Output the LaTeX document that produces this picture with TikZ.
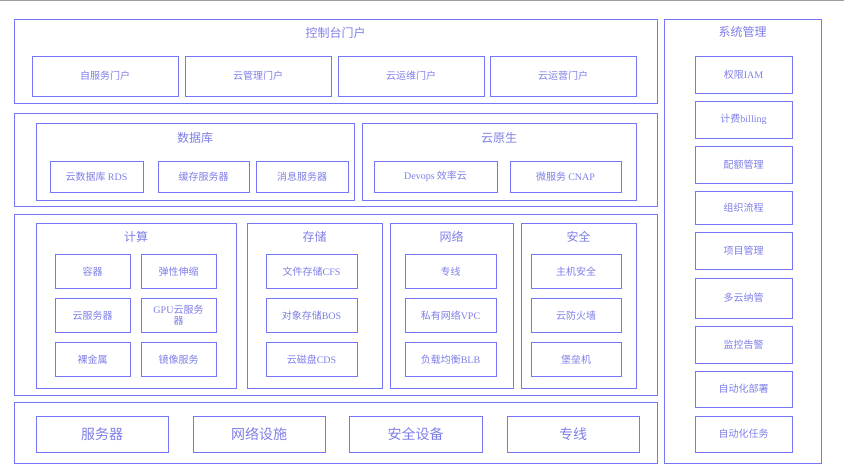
\documentclass[tikz,border=0pt]{standalone}
\usepackage{fontspec}
\setmainfont{Noto Sans CJK SC}
\newfontfamily\engfont{Liberation Serif}
\usetikzlibrary{positioning}
\definecolor{boxblue}{RGB}{118,118,248}
\definecolor{textblue}{RGB}{126,126,232}

\begin{document}
\begin{tikzpicture}[x=1pt, y=-1pt, node distance=8pt,
  every node/.style={text=textblue, inner sep=0pt, outer sep=0pt},
  layer/.style={draw=boxblue, line width=0.9pt, anchor=north west},
  group/.style={layer},
  title/.style={font=\fontsize{12}{14}\selectfont},
  item/.style={draw=boxblue, line width=0.9pt, anchor=north west, align=center, font=\fontsize{10}{11.5}\selectfont},
  portalbox/.style={item, minimum width=146pt, minimum height=40pt},
  cellbox/.style={item, minimum height=34.5pt},
  basebox/.style={item, minimum width=132pt, minimum height=36pt, font=\fontsize{14}{16}\selectfont},
  sysbox/.style={item, minimum width=97pt}]
\useasboundingbox (0,0) rectangle (844,475);
\draw[gray!75, line width=1pt] (0,0.5) -- (844,0.5);

% portal layer
\node[layer, minimum width=643pt, minimum height=84pt] (portal) at (14,19) {};
\node[title, below=8.5pt of portal.north] (portaltitle) {控制台门户};
\node[portalbox] (selfsvc) at (32,56) {自服务门户};
\node[portalbox, right=7pt of selfsvc] (cloudmgmt) {云管理门户};
\node[portalbox, right=7pt of cloudmgmt] (cloudops) {云运维门户};
\node[portalbox, right=6pt of cloudops] (cloudrun) {云运营门户};

% paas layer
\node[layer, minimum width=643pt, minimum height=93pt] (paas) at (14,113) {};
\node[group, minimum width=318pt, minimum height=77pt] (db) at (36,123) {};
\node[title, below=9pt of db.north] (dbtitle) {数据库};
\node[item, minimum width=93pt, minimum height=31pt] (rds) at (50,161) {云数据库 {\engfont RDS}};
\node[item, minimum width=91pt, minimum height=31pt, right=15pt of rds] (cache) {缓存服务器};
\node[item, minimum width=92pt, minimum height=31pt, right=7pt of cache] (mq) {消息服务器};
\node[group, minimum width=274pt, minimum height=77pt] (cn) at (362,123) {};
\node[title, below=9pt of cn.north] (cntitle) {云原生};
\node[item, minimum width=123pt, minimum height=31pt] (devops) at (374,161) {{\engfont Devops} 效率云};
\node[item, minimum width=111pt, minimum height=31pt, right=13pt of devops] (cnap) {微服务 {\engfont CNAP}};

% iaas layer
\node[layer, minimum width=643pt, minimum height=181pt] (iaas) at (14,214) {};
\node[group, minimum width=200pt, minimum height=165pt] (compute) at (36,223) {};
\node[title, below=8pt of compute.north] (computetitle) {计算};
\node[cellbox, minimum width=75pt] (container) at (55,254) {容器};
\node[cellbox, minimum width=75pt, right=11pt of container] (elastic) {弹性伸缩};
\node[cellbox, minimum width=75pt, below=9.5pt of container] (cvm) {云服务器};
\node[cellbox, minimum width=75pt, right=11pt of cvm] (gpu) {{\engfont GPU}云服务\\器};
\node[cellbox, minimum width=75pt, below=9.5pt of cvm] (bare) {裸金属};
\node[cellbox, minimum width=75pt, right=11pt of bare] (image) {镜像服务};

\node[group, minimum width=135pt, minimum height=165pt] (storage) at (247,223) {};
\node[title, below=8pt of storage.north] (storagetitle) {存储};
\node[cellbox, minimum width=91pt] (cfs) at (266,254) {文件存储{\engfont CFS}};
\node[cellbox, minimum width=91pt, below=9.5pt of cfs] (bos) {对象存储{\engfont BOS}};
\node[cellbox, minimum width=91pt, below=9.5pt of bos] (cds) {云磁盘{\engfont CDS}};

\node[group, minimum width=123pt, minimum height=165pt] (network) at (390,223) {};
\node[title, below=8pt of network.north] (networktitle) {网络};
\node[cellbox, minimum width=91pt] (dline) at (405,254) {专线};
\node[cellbox, minimum width=91pt, below=9.5pt of dline] (vpc) {私有网络{\engfont VPC}};
\node[cellbox, minimum width=91pt, below=9.5pt of vpc] (blb) {负载均衡{\engfont BLB}};

\node[group, minimum width=115pt, minimum height=165pt] (security) at (521,223) {};
\node[title, below=8pt of security.north] (securitytitle) {安全};
\node[cellbox, minimum width=90pt] (hostsec) at (531,254) {主机安全};
\node[cellbox, minimum width=90pt, below=9.5pt of hostsec] (firewall) {云防火墙};
\node[cellbox, minimum width=90pt, below=9.5pt of firewall] (bastion) {堡垒机};

% base layer
\node[layer, minimum width=643pt, minimum height=61pt] (base) at (14,402) {};
\node[basebox] (server) at (36,416) {服务器};
\node[basebox, right=25pt of server] (netdev) {网络设施};
\node[basebox, minimum width=133pt, right=24pt of netdev] (secdev) {安全设备};
\node[basebox, right=25pt of secdev] (baseline) {专线};

% system management
\node[layer, minimum width=157pt, minimum height=444pt] (sys) at (664,19) {};
\node[title, below=7.5pt of sys.north] (systitle) {系统管理};
\node[sysbox, minimum height=37pt] (iam) at (695,56) {权限{\engfont IAM}};
\node[sysbox, minimum height=37pt, below=of iam] (billing) {计费{\engfont billing}};
\node[sysbox, minimum height=37pt, below=of billing] (quota) {配额管理};
\node[sysbox, minimum height=33pt, below=of quota] (workflow) {组织流程};
\node[sysbox, minimum height=37pt, below=of workflow] (project) {项目管理};
\node[sysbox, minimum height=40pt, below=9pt of project] (multicloud) {多云纳管};
\node[sysbox, minimum height=37pt, below=of multicloud] (monitor) {监控告警};
\node[sysbox, minimum height=36pt, below=of monitor] (deploy) {自动化部署};
\node[sysbox, minimum height=36pt, below=9pt of deploy] (task) {自动化任务};
\end{tikzpicture}
\end{document}
